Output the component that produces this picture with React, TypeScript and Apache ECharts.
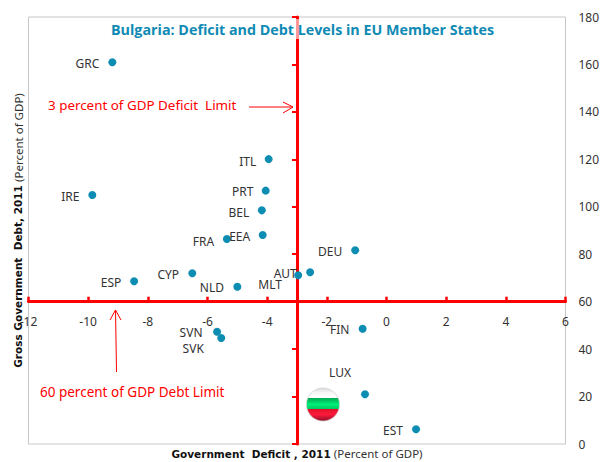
import React, { useEffect, useRef } from "react";
import * as echarts from "echarts";

const codes = ["GRC","IRE","ITL","PRT","BEL","EEA","FRA","CYP","ESP","NLD","AUT","MLT","DEU","FIN","LUX","EST","SVN","SVK"];
const deficit = [-9.19,-9.86,-3.95,-4.05,-4.18,-4.15,-5.35,-6.51,-8.46,-5.0,-2.96,-2.56,-1.05,-0.8,-0.72,0.99,-5.68,-5.54];
const debt = [160.9,105,120.1,106.8,98.5,88.1,86.4,72,68.6,66.3,71.1,72.4,81.7,48.6,21,6.2,47.3,44.7];
const labelShifts = [[-25,1.5],[-22,2],[-21,2],[-23,1],[-23,2],[-23,1],[-23.5,2],[-24,1],[-23,1],[-25.5,1],[-13,-2],[-40,12],[-25,1],[-23,1],[-25,-22],[-23,1],[-26,1],[-28,11]];

const FONT = "'Noto Sans', sans-serif";
const RED = "#ff0000";
const BLUE = "#0e8db3";
const TEXT = "#333333";

export default function App() {
  const ref = useRef<HTMLDivElement>(null);
  useEffect(() => {
    const chart = echarts.init(ref.current!, null, { renderer: "svg" });
    const nameRich = {
      b: { fontFamily: "'DejaVu Sans', sans-serif", fontWeight: "bold", fontSize: 10.5, color: "#111" },
      r: { fontFamily: FONT, fontSize: 11.5, color: "#333" },
    };
    chart.setOption({
      animation: false,
      backgroundColor: "#fff",
      textStyle: { fontFamily: FONT },
      title: {
        text: "Bulgaria: Deficit and Debt Levels in EU Member States",
        left: 104, top: 19,
        padding: [3, 7],
        backgroundColor: "rgba(255,255,255,0.6)",
        textStyle: { fontFamily: "'Open Sans', sans-serif", fontSize: 14.3, fontWeight: "bold", color: "#0f8ab4" },
        z: 10,
      },
      grid: { left: 28.5, right: 41.5, top: 17, bottom: 18, show: true, outerBoundsMode: "none", containLabel: false, borderColor: "#c6c6c6", borderWidth: 1, backgroundColor: "transparent" },
      xAxis: {
        type: "value", min: -12, max: 6, interval: 2, position: "bottom", offset: -142.3,
        splitLine: { show: false },
        axisLine: { show: true, onZero: false, lineStyle: { color: RED, width: 3 } },
        axisTick: { show: true, inside: true, length: 5, lineStyle: { color: RED, width: 2.5 } },
        axisLabel: { show: true, margin: 14, fontSize: 12, color: TEXT, fontFamily: FONT, showMinLabel: true, showMaxLabel: true, hideOverlap: false },
        name: "{b|Government  Deficit , 2011} {r|(Percent of GDP)}",
        nameLocation: "middle", nameGap: 146,
        nameTextStyle: { rich: nameRich },
      },
      yAxis: [
        {
          type: "value", min: 0, max: 180, interval: 20, position: "left", offset: -268.5,
          splitLine: { show: false },
          axisLine: { show: true, onZero: false, lineStyle: { color: RED, width: 3 } },
          axisTick: { show: true, length: 5, lineStyle: { color: RED, width: 2 } },
          axisLabel: { show: false },
          name: "{b|Gross Government  Debt, 2011} {r|(Percent of GDP)}",
          nameLocation: "middle", nameGap: 273, nameRotate: 90,
          nameTextStyle: { rich: nameRich },
        },
        {
          type: "value", min: 0, max: 180, interval: 20, position: "right",
          splitLine: { show: false },
          axisLine: { show: false },
          axisTick: { show: false },
          axisLabel: { show: true, margin: 13, fontSize: 12, color: TEXT, fontFamily: FONT },
        },
      ],
      series: [{
        type: "scatter",
        symbolSize: 8,
        itemStyle: { color: BLUE, opacity: 1 },
        data: codes.map((c, i) => ({ name: c, value: [deficit[i], debt[i]] })),
        label: { show: true, position: "inside", formatter: "{b}", fontSize: 12, color: TEXT, fontFamily: FONT },
        labelLayout: (p: any) => ({ dx: labelShifts[p.dataIndex][0], dy: labelShifts[p.dataIndex][1], hideOverlap: false }),
        emphasis: { disabled: true },
        z: 5,
      }],
      graphic: [
        { type: "text", x: 48, y: 98, z: 20, style: { text: "3 percent of GDP Deficit  Limit", fontFamily: FONT, fontSize: 13.4, fill: RED } },
        { type: "line", z: 20, shape: { x1: 249, y1: 107, x2: 293, y2: 107 }, style: { stroke: RED, lineWidth: 1 } },
        { type: "polyline", z: 20, shape: { points: [[283, 102], [293, 107], [283, 113]] }, style: { stroke: RED, lineWidth: 1, fill: "none" } },
        { type: "text", x: 40, y: 385, z: 20, style: { text: "60 percent of GDP Debt Limit", fontFamily: FONT, fontSize: 13.5, fill: RED } },
        { type: "line", z: 20, shape: { x1: 116.5, y1: 372, x2: 115.5, y2: 310 }, style: { stroke: RED, lineWidth: 1 } },
        { type: "polyline", z: 20, shape: { points: [[110, 320], [115.5, 310], [121, 320]] }, style: { stroke: RED, lineWidth: 1, fill: "none" } },
        {
          type: "circle", z: 20, shape: { cx: 323, cy: 404.5, r: 16.5 },
          style: {
            stroke: "#cfcfcf", lineWidth: 0.7,
            fill: new echarts.graphic.LinearGradient(0, 0, 0, 1, [
              { offset: 0, color: "#d8d8d8" }, { offset: 0.14, color: "#f6f6f6" }, { offset: 0.3, color: "#ffffff" },
              { offset: 0.3, color: "#00a850" }, { offset: 0.5, color: "#00f078" }, { offset: 0.64, color: "#00c860" },
              { offset: 0.64, color: "#e0102a" }, { offset: 0.8, color: "#ff1a3c" }, { offset: 1, color: "#901028" },
            ]),
          },
        },
      ],
    });
    return () => chart.dispose();
  }, []);
  return <div ref={ref} style={{ position: "absolute", left: 0, top: 0, width: 607, height: 462 }} />;
}
